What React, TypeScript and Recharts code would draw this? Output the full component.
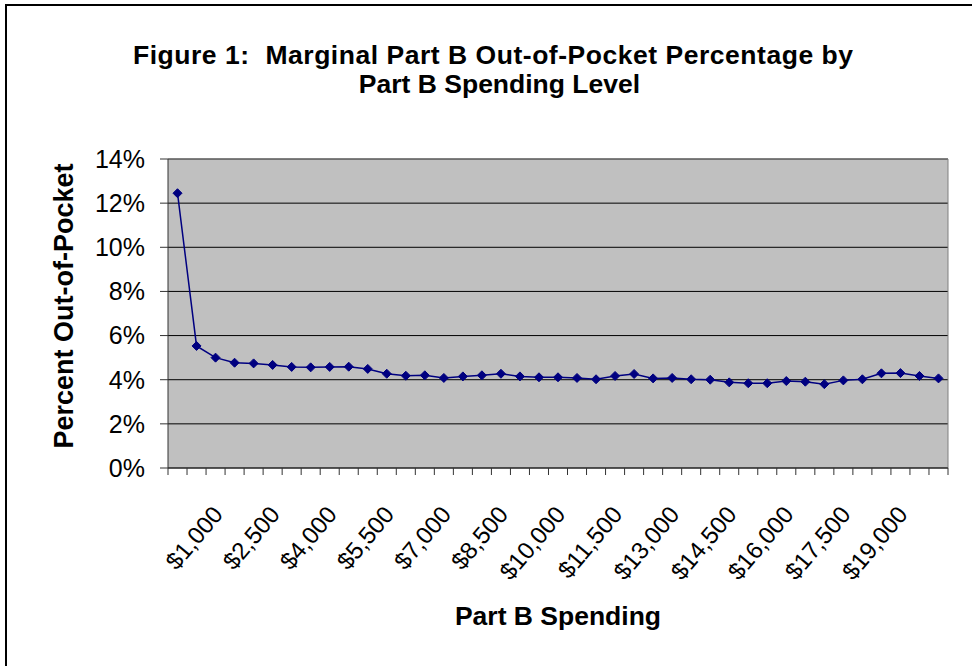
import { LineChart, Line, XAxis, YAxis, CartesianGrid, ReferenceLine } from "recharts";

// Part B spending level of each bucket (dollars)
const spendingLevels = [
  0, 500, 1000, 1500, 2000, 2500, 3000, 3500, 4000, 4500, 5000, 5500, 6000, 6500,
  7000, 7500, 8000, 8500, 9000, 9500, 10000, 10500, 11000, 11500, 12000, 12500,
  13000, 13500, 14000, 14500, 15000, 15500, 16000, 16500, 17000, 17500, 18000,
  18500, 19000, 19500, 20000,
];

// marginal out-of-pocket percentage
const outOfPocketPct = [
  12.45, 5.53, 5.0, 4.77, 4.74, 4.67, 4.58, 4.56, 4.58, 4.59, 4.49, 4.27, 4.18,
  4.2, 4.08, 4.15, 4.2, 4.27, 4.15, 4.11, 4.11, 4.08, 4.02, 4.17, 4.26, 4.06,
  4.08, 4.02, 4.0, 3.88, 3.84, 3.84, 3.94, 3.91, 3.8, 3.97, 4.02, 4.29, 4.3,
  4.17, 4.06,
];

const tickLabels = [
  "$1,000", "$2,500", "$4,000", "$5,500", "$7,000", "$8,500", "$10,000",
  "$11,500", "$13,000", "$14,500", "$16,000", "$17,500", "$19,000",
];

const yTicks = [0, 2, 4, 6, 8, 10, 12, 14];

const FONT = '"Liberation Sans", Arial, sans-serif';

const fmtDollars = (v: number) => "$" + v.toLocaleString("en-US");

const data = spendingLevels.map((level, i) => ({
  level,
  slot: i + 0.5,
  pct: outOfPocketPct[i],
}));

// tick marks sit between categories (Excel style), labels at category centres
const boundaryTicks = spendingLevels.map((_, i) => i).concat(spendingLevels.length);
const labelTicks = spendingLevels
  .map((lvl, i) => (tickLabels.includes(fmtDollars(lvl)) ? i + 0.5 : -1))
  .filter((v) => v >= 0);
const xTicks = [...boundaryTicks, ...labelTicks];

function SpendTick(props: any) {
  const { x, y, payload } = props;
  const v = payload.value;
  if (Number.isInteger(v)) {
    return <line x1={x} y1={y} x2={x} y2={y + 7} stroke="#333" strokeWidth={1} />;
  }
  const level = spendingLevels[Math.floor(v)];
  const tx = x + 8.5;
  const ty = y + 47;
  return (
    <text
      x={tx}
      y={ty}
      transform={`rotate(-50 ${tx} ${ty})`}
      textAnchor="end"
      fontFamily={FONT}
      fontSize={24}
      fill="#000"
    >
      {fmtDollars(level)}
    </text>
  );
}

function Diamond(props: any) {
  const { cx, cy } = props;
  if (cx == null || cy == null) return null;
  const r = 4.5;
  return (
    <polygon
      points={`${cx},${cy - r} ${cx + r},${cy} ${cx},${cy + r} ${cx - r},${cy}`}
      fill="#000080"
      stroke="#000080"
    />
  );
}

export default function App() {
  return (
    <div
      style={{
        position: "absolute",
        left: 0,
        top: 0,
        width: 972,
        height: 666,
        background: "#fff",
        overflow: "hidden",
      }}
    >
      <LineChart
        width={972}
        height={666}
        data={data}
        margin={{ top: 159, right: 24, bottom: 78, left: 0 }}
      >
        <CartesianGrid horizontal vertical={false} fill="#C0C0C0" stroke="#000" />
        <XAxis
          type="number"
          dataKey="slot"
          domain={[0, spendingLevels.length]}
          ticks={xTicks}
          interval={0}
          height={120}
          tickLine={false}
          tickSize={0}
          tickMargin={0}
          axisLine={{ stroke: "#333" }}
          tick={<SpendTick />}
        />
        <YAxis
          type="number"
          domain={[0, 14]}
          ticks={yTicks}
          interval={0}
          width={168}
          tickSize={8}
          tickMargin={15}
          tickLine={{ stroke: "#333" }}
          axisLine={{ stroke: "#333" }}
          tickFormatter={(v) => `${v}%`}
          tick={{ fontFamily: FONT, fontSize: 25, fill: "#000" }}
        />
        <ReferenceLine y={14} stroke="#808080" />
        <ReferenceLine x={spendingLevels.length} stroke="#808080" />
        <Line
          type="linear"
          dataKey="pct"
          stroke="#000080"
          strokeWidth={1.5}
          dot={<Diamond />}
          activeDot={false}
          isAnimationActive={false}
        />
      </LineChart>

      <svg
        width={972}
        height={666}
        style={{ position: "absolute", left: 0, top: 0, pointerEvents: "none" }}
      >
        <path d="M6,666 L6,5 L972,5" fill="none" stroke="#000" strokeWidth={2} />
        <g fontFamily={FONT} fontWeight="bold" fill="#000" textAnchor="middle">
          <text
            x={493}
            y={64}
            fontSize={26.5}
            textLength={720}
            lengthAdjust="spacing"
            style={{ whiteSpace: "pre" }}
          >
            {"Figure 1:  Marginal Part B Out-of-Pocket Percentage by"}
          </text>
          <text x={499.5} y={93} fontSize={26.5}>
            Part B Spending Level
          </text>
          <text x={73} y={306} fontSize={27} transform="rotate(-90 73 306)">
            Percent Out-of-Pocket
          </text>
          <text x={558} y={625} fontSize={26.5}>
            Part B Spending
          </text>
        </g>
      </svg>
    </div>
  );
}
